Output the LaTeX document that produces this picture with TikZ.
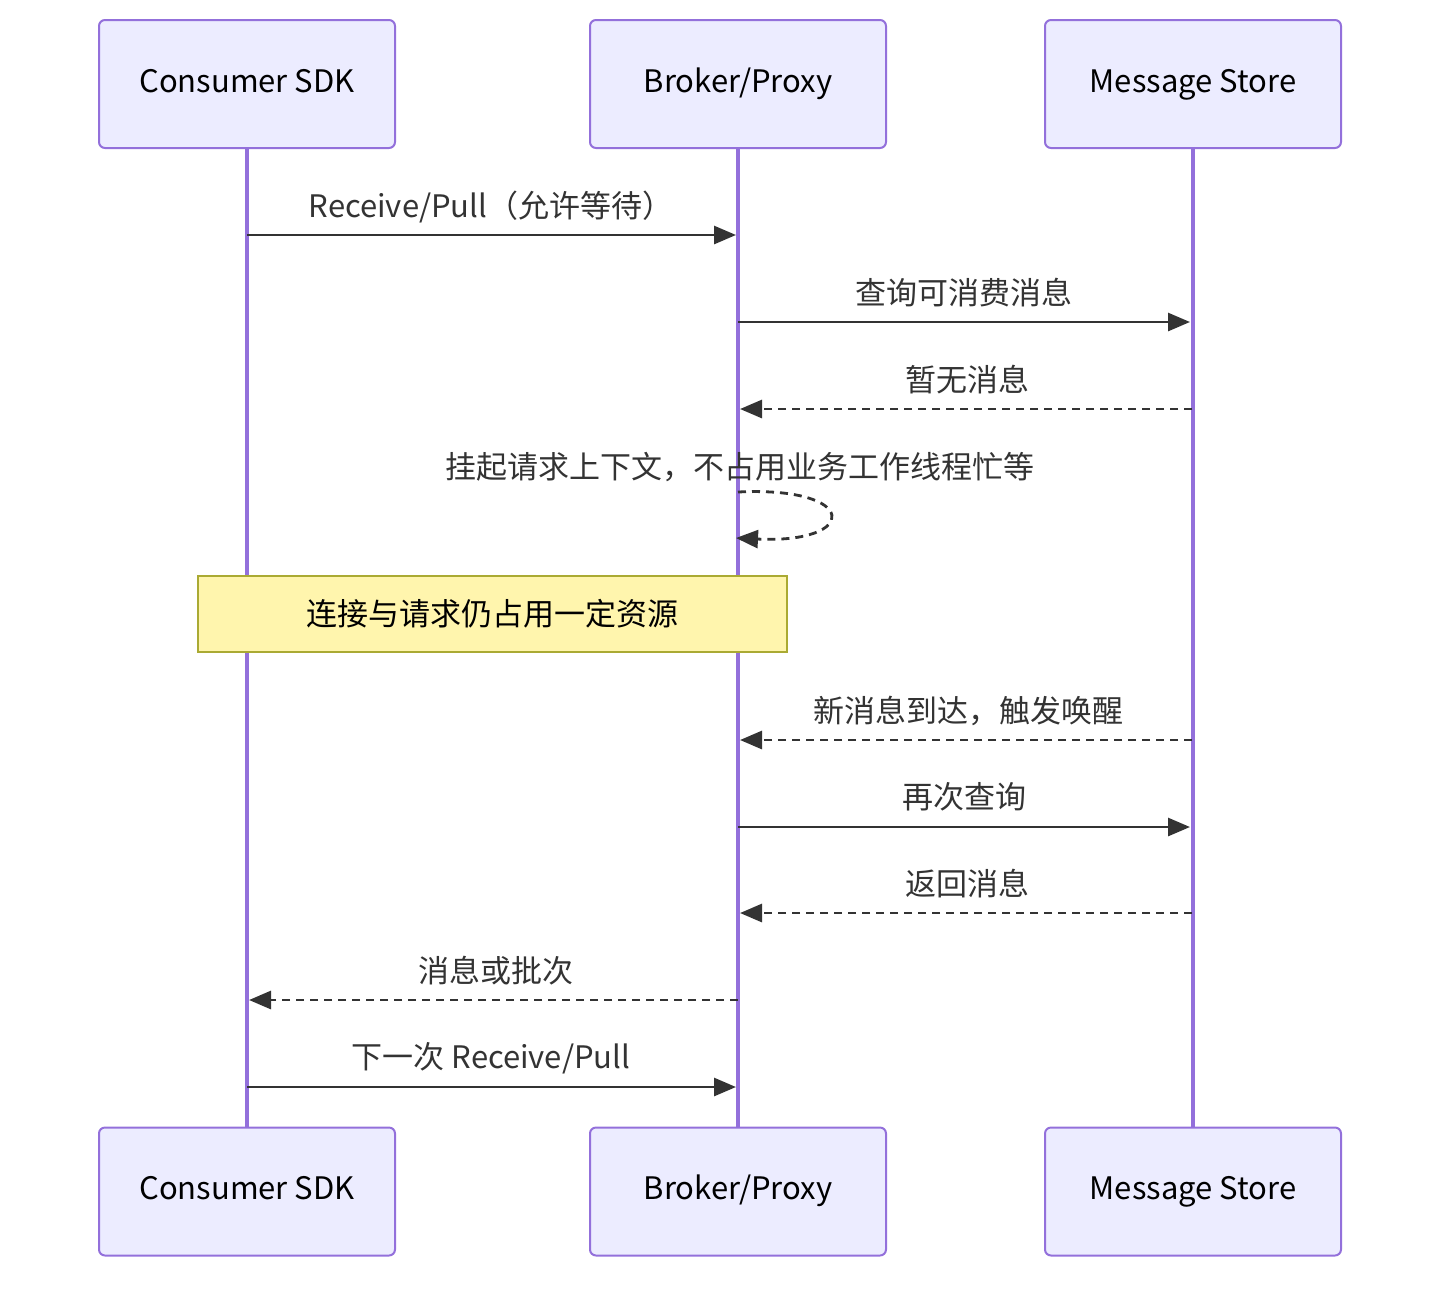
\documentclass[tikz,border=0pt]{standalone}
\usepackage{fontspec}
\setmainfont{Noto Sans CJK SC}
\usepackage{xcolor}
\usetikzlibrary{arrows.meta,positioning,calc}
\definecolor{actorfill}{HTML}{ECECFF}
\definecolor{actorline}{HTML}{9370DB}
\definecolor{msgline}{HTML}{333333}
\definecolor{notefill}{HTML}{FFF5AD}
\definecolor{noteline}{HTML}{AAAA33}
\tikzset{
  actor/.style={draw=actorline, fill=actorfill, line width=1pt, rounded corners=3pt,
    minimum width=148pt, minimum height=64pt, text height=11.5pt, text depth=3.5pt,
    font=\fontsize{15.5}{18}\selectfont, text=black},
  life/.style={draw=actorline, line width=1.8pt},
  msg/.style={draw=msgline, line width=1.4pt, ->},
  reply/.style={msg, dash pattern=on 4pt off 3pt},
  lbl/.style={font=\fontsize{15.5}{18}\selectfont, text=msgline, inner sep=0pt},
  notebox/.style={draw=noteline, fill=notefill, line width=0.8pt, minimum width=294.5pt,
    minimum height=38pt, font=\fontsize{15.5}{18}\selectfont, text=black}
}

\begin{document}
\begin{tikzpicture}[>={Triangle[length=11pt,width=9pt]}, x=0.5pt, y=-0.5pt]
  \useasboundingbox (0,0) rectangle (1456,1292);
  % participants, top and bottom
  \node[actor] (csdk)  at (247,84)  {Consumer SDK};
  \node[actor] (proxy) at (738,84)  {Broker/Proxy};
  \node[actor] (store) at (1193,84) {Message Store};
  \node[actor] (csdkB)  at (247,1191.5)  {Consumer SDK};
  \node[actor] (proxyB) at (738,1191.5)  {Broker/Proxy};
  \node[actor] (storeB) at (1193,1191.5) {Message Store};
  % lifelines
  \draw[life] (csdk.south) -- (csdkB.north);
  \draw[life] (proxy.south) -- (proxyB.north);
  \draw[life] (store.south) -- (storeB.north);
  % message end points on the lifelines
  \coordinate (m1a) at (247,235);  \coordinate (m1b) at (736,235);
  \coordinate (m2a) at (738,322);  \coordinate (m2b) at (1190,322);
  \coordinate (m3a) at (1192,409); \coordinate (m3b) at (740,409);
  \coordinate (m4a) at (738,492);  \coordinate (m4b) at (736,538);
  \coordinate (m5a) at (1192,740); \coordinate (m5b) at (740,740);
  \coordinate (m6a) at (738,827);  \coordinate (m6b) at (1190,827);
  \coordinate (m7a) at (1192,913); \coordinate (m7b) at (740,913);
  \coordinate (m8a) at (738,1000); \coordinate (m8b) at (249,1000);
  \coordinate (m9a) at (247,1087); \coordinate (m9b) at (736,1087);
  % messages
  \draw[msg] (m1a) -- (m1b);
  \node[lbl] (t1) at (491,207) {Receive/Pull（允许等待）};
  \draw[msg] (m2a) -- (m2b);
  \node[lbl] (t2) at (964,293) {查询可消费消息};
  \draw[reply] (m3a) -- (m3b);
  \node[lbl] (t3) at (967,380) {暂无消息};
  \draw[reply] (m4a) .. controls (860,486) and (860,544) .. (m4b);
  \node[lbl] (t4) at (740,467) {挂起请求上下文，不占用业务工作线程忙等};
  % note over consumer and proxy
  \node[notebox] (note) at (492.5,614) {连接与请求仍占用一定资源};
  \draw[reply] (m5a) -- (m5b);
  \node[lbl] (t5) at (968,711) {新消息到达，触发唤醒};
  \draw[msg] (m6a) -- (m6b);
  \node[lbl] (t6) at (964,797) {再次查询};
  \draw[reply] (m7a) -- (m7b);
  \node[lbl] (t7) at (967,884) {返回消息};
  \draw[reply] (m8a) -- (m8b);
  \node[lbl] (t8) at (496,971) {消息或批次};
  \draw[msg] (m9a) -- (m9b);
  \node[lbl] (t9) at (491,1058) {下一次 Receive/Pull};
\end{tikzpicture}
\end{document}
